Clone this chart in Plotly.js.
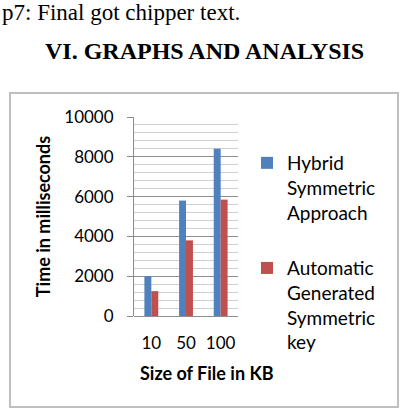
<!DOCTYPE html>
<html>
<head>
<meta charset="utf-8">
<script src="https://cdn.plot.ly/plotly-3.0.1.min.js"></script>
<style>
html,body{margin:0;padding:0;background:#fff;}
#chart{width:404px;height:416px;}
</style>
</head>
<body>
<div id="chart"></div>
<script>
// Data
var categories = ["10", "50", "100"];
var hybridValues = [2000, 5800, 8400];
var automaticValues = [1250, 3800, 5850];
var seriesNames = ["Hybrid<br>Symmetric<br>Approach", "Automatic<br>Generated<br>Symmetric<br>key"];
var yTicks = [0, 2000, 4000, 6000, 8000, 10000];
var yTickText = ["0", "2000", "4000", "6000", "8000", "10000"];

// Geometry of plot area (pixels)
var W = 404, H = 416;
var L = 134, R = 238, T = 117, B = 316;
var pw = R - L, ph = B - T;
function px(x){ return (x - L) / pw; }
function py(y){ return (B - y) / ph; }

var font = "Lato, 'Open Sans', sans-serif";
var serif = "'Liberation Serif', 'Times New Roman', serif";

var traces = [
  {type:"bar", x:categories, y:hybridValues, name:seriesNames[0],
   marker:{color:"#4F81BD"}, legendgroup:"a"},
  {type:"bar", x:categories, y:automaticValues, name:seriesNames[1],
   marker:{color:"#C0504D"}, legendgroup:"b"}
];

var layout = {
  width:W, height:H,
  margin:{l:L, r:W-R, t:T, b:H-B, pad:0},
  paper_bgcolor:"#fff", plot_bgcolor:"#fff",
  barmode:"group", bargap:0.6, bargroupgap:0,
  showlegend:true,
  font:{family:font, color:"#000"},
  xaxis:{
    type:"category", showgrid:false, zeroline:false,
    showline:false, ticks:"", ticklabelstandoff:15,
    tickfont:{size:17, family:font, color:"#000"},
    automargin:false
  },
  yaxis:{
    range:[0,10000], tickvals:yTicks, ticktext:yTickText,
    showgrid:true, gridcolor:"#8c8c8c", gridwidth:1,
    zeroline:true, zerolinecolor:"#8c8c8c", zerolinewidth:1,
    showline:true, linecolor:"#8c8c8c", linewidth:1,
    ticks:"outside", ticklen:6, tickcolor:"#8c8c8c", ticklabelstandoff:10,
    minor:{dtick:400, showgrid:true, gridcolor:"#d0d0d0", gridwidth:1, ticks:""},
    tickfont:{size:17, family:font, color:"#000"},
    title:{text:"<b>Time in milliseconds</b>", font:{size:18, family:font, color:"#000"}, standoff:8},
    automargin:false
  },
  legend:{
    x:px(247), y:py(144), xanchor:"left", yanchor:"top",
    traceorder:"grouped", tracegroupgap:28, valign:"top",
    maxheight:400,
    font:{size:19, family:font, color:"#000"},
    bgcolor:"rgba(0,0,0,0)"
  },
  shapes:[
    {type:"rect", xref:"paper", yref:"paper",
     x0:px(10), x1:px(398), y0:py(407), y1:py(93),
     line:{color:"#bfbfbf", width:2}, fillcolor:"rgba(0,0,0,0)", layer:"below"}
  ],
  annotations:[
    {xref:"paper", yref:"paper", x:px(0), y:py(12), xanchor:"left", yanchor:"middle",
     text:"p7: Final got chipper text.", showarrow:false,
     font:{family:serif, size:23, color:"#000"}},
    {xref:"paper", yref:"paper", x:px(204), y:py(51), xanchor:"center", yanchor:"middle",
     text:"<b>VI. GRAPHS AND ANALYSIS</b>", showarrow:false,
     font:{family:serif, size:24, color:"#000"}},
    {xref:"paper", yref:"paper", x:px(207), y:py(373), xanchor:"center", yanchor:"middle",
     text:"<b>Size of File in KB</b>", showarrow:false,
     font:{family:font, size:18, color:"#000"}}
  ]
};

Plotly.newPlot("chart", traces, layout, {displayModeBar:false, staticPlot:true});
</script>
</body>
</html>
